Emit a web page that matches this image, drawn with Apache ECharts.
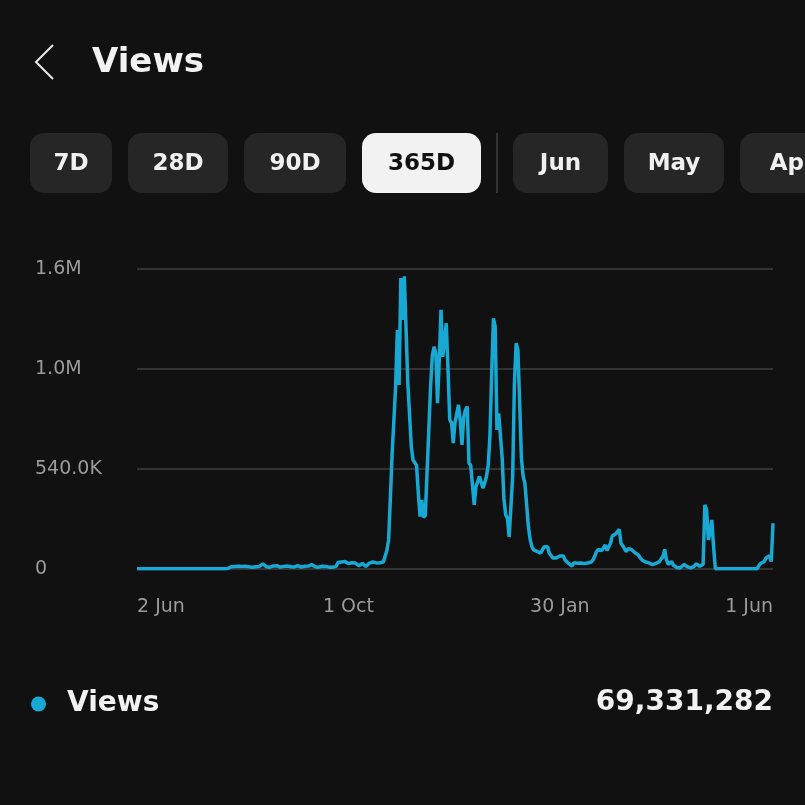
<!DOCTYPE html>
<html>
<head>
<meta charset="utf-8">
<script src="https://cdn.jsdelivr.net/npm/echarts@6/dist/echarts.min.js"></script>
<style>
  html, body { margin: 0; padding: 0; background: #111111; }
  #chart { width: 805px; height: 805px; }
</style>
</head>
<body>
<div id="chart"></div>
<script>
// --- data ---
var startDay = [2022, 5, 2]; // 2 Jun (month is 0-based)
var xTickLabels = ['2 Jun', '1 Oct', '30 Jan', '1 Jun'];
var yTickValues = [0, 540000, 1080000, 1620000];
var yTickLabels = ['0', '540.0K', '1.0M', '1.6M'];
var periodButtons = ['7D', '28D', '90D', '365D'];
var monthButtons = ['Jun', 'May', 'Apr'];
var seriesName = 'Views';
var totalViews = '69,331,282';

// daily views, thousands
var viewsK = [
  2, 2, 2, 2, 2, 2, 2, 2, 2, 2,
  2, 2, 2, 2, 2, 2, 2, 2, 2, 2,
  2, 2, 2, 2, 2, 2, 2, 2, 2, 2,
  2, 2, 2, 2, 2, 2, 2, 2, 2, 2,
  2, 2, 2, 2, 2, 2, 2, 2, 2, 2,
  2, 2, 3, 8, 12, 10, 14, 18, 15, 25,
  14, 12, 15, 10, 12, 8, 10, 9, 12, 15,
  14, 22, 28, 18, 12, 14, 10, 12, 16, 14,
  18, 12, 10, 9, 14, 12, 16, 10, 12, 14,
  11, 13, 18, 14, 10, 12, 15, 14, 16, 20,
  24, 14, 12, 16, 10, 13, 15, 22, 14, 12,
  10, 12, 9, 11, 14, 35, 40, 38, 32, 40,
  36, 30, 38, 34, 28, 32, 30, 18, 22, 30,
  26, 14, 24, 32, 30, 38, 36, 33, 30, 34,
  36, 38, 45, 100, 157, 380, 620, 800, 985, 1290,
  994, 1571, 1345, 1580, 1588, 1004, 1000, 660, 589, 590,
  560, 410, 283, 373, 278, 290, 300, 750, 980, 1150,
  1200, 1165, 896, 1130, 1400, 1146, 1140, 1327, 1075, 805,
  790, 680, 790, 800, 886, 800, 670, 820, 860, 877,
  572, 560, 555, 346, 445, 472, 500, 510, 437, 465,
  499, 560, 720, 1058, 1354, 1309, 751, 840, 842, 600,
  380, 292, 275, 174, 174, 499, 1000, 1219, 1183, 900,
  600, 500, 464, 463, 229, 160, 121, 103, 100, 95,
  90, 86, 86, 120, 130, 120, 85, 85, 60, 52,
  60, 65, 70, 80, 70, 49, 40, 30, 22, 16,
  34, 30, 31, 30, 32, 31, 30, 33, 32, 35,
  38, 49, 70, 94, 105, 112, 100, 115, 130, 100,
  120, 139, 178, 184, 190, 200, 214, 139, 125, 110,
  94, 110, 120, 105, 95, 88, 80, 76, 60, 49,
  40, 38, 36, 33, 30, 24, 22, 30, 38, 40,
  55, 67, 106, 50, 25, 30, 40, 20, 13, 8,
  8, 6, 12, 25, 31, 12, 8, 6, 8, 15,
  28, 31, 15, 12, 25, 346, 320, 157, 200, 265,
  120, 2, 2, 2, 2, 2, 2, 2, 2, 2,
  2, 2, 2, 2, 2, 2, 2, 2, 2, 2,
  2, 2, 2, 2, 2, 2, 20, 31, 35, 40,
  60, 67, 72, 40, 247
];

var MONTHS = ['Jan', 'Feb', 'Mar', 'Apr', 'May', 'Jun', 'Jul', 'Aug', 'Sep', 'Oct', 'Nov', 'Dec'];
var days = viewsK.map(function(v, i) {
  var d = new Date(Date.UTC(startDay[0], startDay[1], startDay[2] + i));
  return d.getUTCDate() + ' ' + MONTHS[d.getUTCMonth()];
});
var views = viewsK.map(function(v) { return v * 1000; });

var lineColor = '#17a9d3';
var boldFont = '"DejaVu Sans", sans-serif';

// --- header / buttons ---
var btnX = [[30, 112], [128, 228], [244, 346], [362, 481], [513, 608], [624, 724], [740, 845]];
var btnLabels = periodButtons.concat(monthButtons);
var graphics = [
  {
    type: 'polyline',
    shape: { points: [[53, 45], [36, 62], [53, 79]] },
    style: { stroke: '#e8e8e8', lineWidth: 2, fill: null }
  },
  {
    type: 'text', x: 92, y: 63,
    style: { text: 'Views', fill: '#f2f2f2', font: 'bold 34px ' + boldFont, textVerticalAlign: 'middle' }
  },
  {
    type: 'line',
    shape: { x1: 497, y1: 133, x2: 497, y2: 193 },
    style: { stroke: '#333333', lineWidth: 2 }
  },
  {
    type: 'text', x: 773, y: 703,
    style: { text: totalViews, fill: '#f2f2f2', font: 'bold 28px ' + boldFont, textAlign: 'right', textVerticalAlign: 'middle' }
  }
];
btnLabels.forEach(function(lab, i) {
  var sel = lab === '365D';
  var x0 = btnX[i][0], x1 = btnX[i][1];
  graphics.push({
    type: 'rect',
    shape: { x: x0, y: 133, width: x1 - x0, height: 60, r: 14 },
    style: { fill: sel ? '#f2f2f2' : '#262626' }
  });
  graphics.push({
    type: 'text', x: (x0 + x1) / 2, y: 164,
    style: { text: lab, fill: sel ? '#111111' : '#f0f0f0', font: 'bold 23px ' + boldFont, textAlign: 'center', textVerticalAlign: 'middle' }
  });
});

var chart = echarts.init(document.getElementById('chart'), null, { renderer: 'canvas' });
chart.setOption({
  animation: false,
  backgroundColor: '#111111',
  graphic: graphics,
  legend: {
    data: [seriesName],
    left: 26,
    top: 685,
    icon: 'circle',
    itemWidth: 15,
    itemHeight: 15,
    textStyle: { color: '#f2f2f2', fontSize: 28, fontWeight: 'bold', fontFamily: boldFont, padding: [0, 0, 0, 16] }
  },
  grid: { left: 137, right: 32, top: 269, bottom: 236, containLabel: false },
  xAxis: {
    type: 'category',
    data: days,
    boundaryGap: false,
    axisLine: { show: false },
    axisTick: { show: false },
    splitLine: { show: false },
    axisLabel: {
      color: '#9b9b9b',
      fontSize: 19,
      fontFamily: '"DejaVu Sans", sans-serif',
      margin: 29,
      interval: function(idx, val) { return xTickLabels.indexOf(val) >= 0; },
      alignMinLabel: 'left',
      alignMaxLabel: 'right'
    }
  },
  yAxis: {
    type: 'value',
    min: 0,
    max: 1620000,
    interval: 540000,
    axisLine: { show: false },
    axisTick: { show: false },
    splitLine: { lineStyle: { color: '#333333', width: 2 } },
    axisLabel: {
      color: '#9b9b9b',
      fontSize: 19,
      fontFamily: '"DejaVu Sans", sans-serif',
      align: 'left',
      margin: 102,
      padding: [6, 0, 0, 0],
      formatter: function(v) {
        var k = yTickValues.indexOf(v);
        return k >= 0 ? yTickLabels[k] : '';
      }
    }
  },
  series: [{
    name: seriesName,
    type: 'line',
    data: views,
    showSymbol: false,
    symbol: 'circle',
    itemStyle: { color: lineColor },
    lineStyle: { color: lineColor, width: 3.5 }
  }]
});
</script>
</body>
</html>
